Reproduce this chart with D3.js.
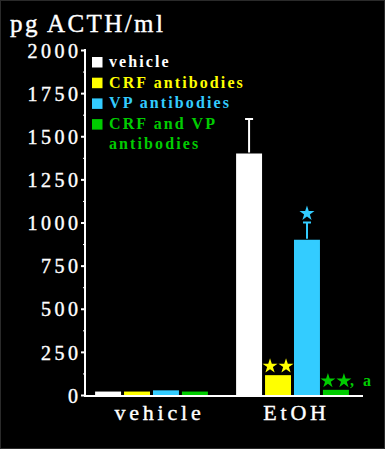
<!DOCTYPE html>
<html>
<head>
<meta charset="utf-8">
<script src="https://cdn.jsdelivr.net/npm/d3@7"></script>
<style>
  html, body { margin: 0; padding: 0; background: #000; }
  svg { display: block; }
</style>
</head>
<body>
<div id="container"></div>
<script>
const WIDTH = 385;
const HEIGHT = 449;
const SERIF = "'Liberation Serif', 'DejaVu Serif', serif";

// data
var CATEGORIES = ["vehicle", "EtOH"];
var SERIES = ["vehicle", "CRF antibodies", "VP antibodies", "CRF and VP antibodies"];
var LEGEND_LINES = [["vehicle"], ["CRF antibodies"], ["VP antibodies"], ["CRF and VP", "antibodies"]];
var COLORS = ["#ffffff", "#ffff00", "#33ccff", "#00cc00"];
var VEHICLE_VALUES = [20, 20, 27, 20];
var ETOH_VALUES = [1400, 115, 900, 30];
var VEHICLE_ERRORS = [0, 0, 0, 0];
var ETOH_ERRORS = [200, 0, 100, 0];
var ETOH_STARS = [0, 2, 1, 2];
var ETOH_NOTES = ["", "", "", ", a"];
var Y_TICKS = [0, 250, 500, 750, 1000, 1250, 1500, 1750, 2000];
var Y_MINOR = [125, 375, 625, 875, 1125, 1375, 1625, 1875];

var rows = CATEGORIES.map(function (cat, i) {
    var vals = i === 0 ? VEHICLE_VALUES : ETOH_VALUES;
    var errs = i === 0 ? VEHICLE_ERRORS : ETOH_ERRORS;
    return SERIES.map(function (s, j) {
        return {cat: cat, series: s, value: vals[j], err: errs[j],
            stars: i === 0 ? 0 : ETOH_STARS[j], note: i === 0 ? "" : ETOH_NOTES[j], color: COLORS[j]};
    });
});

var svg = d3.select("#container").append("svg")
    .attr("width", WIDTH)
    .attr("height", HEIGHT);

svg.append("rect")
    .attr("x", 0.5).attr("y", 0.5)
    .attr("width", WIDTH - 1).attr("height", HEIGHT - 1)
    .attr("fill", "#000").attr("stroke", "#2a2a2a");

var y = d3.scaleLinear().domain([0, 2000]).range([395, 50]);
var x0 = d3.scaleBand().domain(CATEGORIES).range([81, 363]).paddingInner(0.2).paddingOuter(0.1);
var x1 = d3.scaleBand().domain(SERIES).range([0, x0.bandwidth()]).paddingInner(3 / 29);

// title
svg.append("text")
    .attr("x", 10).attr("y", 32)
    .attr("fill", "#fff")
    .style("font-family", SERIF).style("font-size", "25px").style("letter-spacing", "2.4px")
    .style("stroke", "#fff").style("stroke-width", 0.4)
    .text("pg ACTH/ml");

// y axis
var yAxis = svg.append("g")
    .attr("transform", "translate(85,0)")
    .call(d3.axisLeft(y).tickValues(Y_TICKS).tickSize(4).tickPadding(0).tickFormat(d3.format("d")));
yAxis.select(".domain").remove();
yAxis.selectAll(".tick line").attr("stroke", "#fff").attr("stroke-width", 2);
yAxis.selectAll(".tick text")
    .attr("fill", "#fff").attr("x", -3.5).attr("dy", "0.36em")
    .style("font-family", SERIF).style("font-size", "20px").style("letter-spacing", "3.5px")
    .style("stroke", "#fff").style("stroke-width", 0.4);

var yMinor = svg.append("g")
    .attr("transform", "translate(85,0)")
    .call(d3.axisLeft(y).tickValues(Y_MINOR).tickSize(2).tickFormat(""));
yMinor.select(".domain").remove();
yMinor.selectAll(".tick line").attr("stroke", "#fff").attr("stroke-width", 1);

svg.append("line")
    .attr("x1", 85).attr("x2", 85)
    .attr("y1", y(2000) - 1).attr("y2", y(0) + 2)
    .attr("stroke", "#fff").attr("stroke-width", 2);

// bars
var groups = svg.selectAll(".group")
    .data(rows)
    .enter().append("g")
    .attr("class", "group")
    .attr("transform", function (d, i) { return "translate(" + x0(CATEGORIES[i]) + ",0)"; });

groups.selectAll(".bar")
    .data(function (d) { return d; })
    .enter().append("rect")
    .attr("class", "bar")
    .attr("x", function (d) { return x1(d.series); })
    .attr("y", function (d) { return y(d.value); })
    .attr("width", x1.bandwidth())
    .attr("height", function (d) { return y(0) - y(d.value); })
    .attr("fill", function (d) { return d.color; });

// error bars
var errs = groups.selectAll(".err")
    .data(function (d) { return d.filter(function (e) { return e.err > 0; }); })
    .enter().append("g")
    .attr("class", "err");
errs.append("line")
    .attr("x1", function (d) { return x1(d.series) + x1.bandwidth() / 2; })
    .attr("x2", function (d) { return x1(d.series) + x1.bandwidth() / 2; })
    .attr("y1", function (d) { return y(d.value) - 1; })
    .attr("y2", function (d) { return y(d.value + d.err); })
    .attr("stroke", function (d) { return d.color; }).attr("stroke-width", 2);
errs.append("line")
    .attr("x1", function (d) { return x1(d.series) + x1.bandwidth() / 2 - 4; })
    .attr("x2", function (d) { return x1(d.series) + x1.bandwidth() / 2 + 4; })
    .attr("y1", function (d) { return y(d.value + d.err); })
    .attr("y2", function (d) { return y(d.value + d.err); })
    .attr("stroke", function (d) { return d.color; }).attr("stroke-width", 2);

// significance stars
var star = d3.symbol().type(d3.symbolStar).size(70);
groups.each(function (rowData) {
    var g = d3.select(this);
    rowData.forEach(function (d) {
        if (!d.stars) return;
        var cx = x1(d.series) + x1.bandwidth() / 2;
        var cy = y(d.value + d.err) - 10;
        var gap = 16;
        for (var k = 0; k < d.stars; k++) {
            var sx = cx - (d.stars - 1) * gap / 2 + k * gap;
            g.append("path")
                .attr("d", star)
                .attr("transform", "translate(" + sx + "," + (cy + 1) + ")")
                .attr("fill", d.color);
        }
        if (d.note) {
            g.append("text")
                .attr("x", cx + (d.stars - 1) * gap / 2 + 6)
                .attr("y", cy + 6)
                .attr("fill", d.color)
                .style("font-family", SERIF).style("font-size", "16px").style("font-weight", "bold")
                .style("letter-spacing", "2.5px")
                .text(d.note);
        }
    });
});

// x baseline and labels
svg.append("line")
    .attr("x1", 84).attr("x2", 363)
    .attr("y1", y(0) + 1).attr("y2", y(0) + 1)
    .attr("stroke", "#fff").attr("stroke-width", 2);

svg.selectAll(".xlabel")
    .data(CATEGORIES)
    .enter().append("text")
    .attr("class", "xlabel")
    .attr("x", function (d, i) { return x0(d) + x0.bandwidth() / 2 + (i === 0 ? 8 : 4); })
    .attr("y", 420)
    .attr("text-anchor", "middle")
    .attr("fill", "#fff")
    .style("font-family", SERIF).style("font-size", "22px").style("letter-spacing", "3.8px")
    .style("stroke", "#fff").style("stroke-width", 0.4)
    .text(function (d) { return d; });

// legend
var legend = svg.selectAll(".legend")
    .data(SERIES)
    .enter().append("g")
    .attr("class", "legend")
    .attr("transform", function (d, i) { return "translate(92," + (57 + i * 20.7) + ")"; });

legend.append("rect")
    .attr("width", 10.5).attr("height", 10.5)
    .attr("fill", function (d, i) { return COLORS[i]; });

legend.append("text")
    .attr("x", 17)
    .attr("fill", function (d, i) { return COLORS[i]; })
    .style("font-family", SERIF).style("font-size", "16px").style("font-weight", "bold")
    .style("letter-spacing", "2.1px")
    .selectAll("tspan")
    .data(function (d, i) { return LEGEND_LINES[i]; })
    .enter().append("tspan")
    .attr("x", 17)
    .attr("y", function (d, k) { return 10 + k * 19.5; })
    .text(function (d) { return d; });
</script>
</body>
</html>
